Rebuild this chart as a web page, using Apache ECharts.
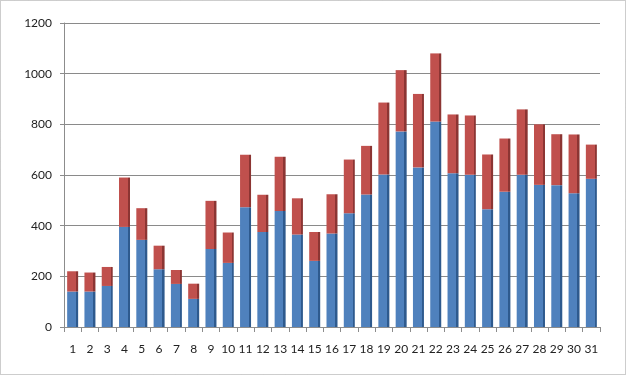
<!DOCTYPE html>
<html><head><meta charset="utf-8">
<script src="https://cdn.jsdelivr.net/npm/echarts@6/dist/echarts.min.js"></script>
<style>html,body{margin:0;padding:0;background:#fff}#c{width:626px;height:375px}</style>
</head><body><div id="c"></div>
<script>
const categories = ['1','2','3','4','5','6','7','8','9','10','11','12','13','14','15','16','17','18','19','20','21','22','23','24','25','26','27','28','29','30','31'];
const blueValues = [140,140,162,395,344,228,170,111,308,253,473,375,458,365,261,369,449,523,602,772,630,811,607,601,465,534,601,561,560,528,585];
const totalValues = [220,215,237,590,469,321,225,171,498,373,680,522,672,508,375,524,661,715,886,1014,920,1080,839,835,681,744,859,800,761,760,720];
const redValues = totalValues.map((t, i) => t - blueValues[i]);
const yTicks = [0,200,400,600,800,1000,1200];

function faceGrad(front, side) {
  return {type:'linear', x:0, y:0, x2:1, y2:0, colorStops:[
    {offset:0, color:front},{offset:0.8, color:front},
    {offset:0.8, color:side},{offset:1, color:side}]};
}
const chart = echarts.init(document.getElementById('c'), null, {renderer:'canvas'});
chart.setOption({
  animation:false,
  backgroundColor:'#fff',
  grid:{left:64, right:26, top:23, bottom:48},
  xAxis:{type:'category', data:categories,
    axisLine:{lineStyle:{color:'#8c8c8c'}},
    axisTick:{show:true, length:5, lineStyle:{color:'#8c8c8c'}},
    axisLabel:{color:'#222', fontFamily:'Lato', fontSize:12, margin:16, interval:0, hideOverlap:false}},
  yAxis:{type:'value', min:yTicks[0], max:yTicks[yTicks.length-1], interval:200,
    axisLine:{show:true, lineStyle:{color:'#8c8c8c'}},
    axisTick:{show:true, length:4, lineStyle:{color:'#8c8c8c'}},
    splitLine:{lineStyle:{color:'#8a8a8a', width:1}},
    axisLabel:{color:'#222', fontFamily:'Lato', fontSize:12, margin:12, formatter:v => String(v)}},
  series:[
    {type:'bar', stack:'s', data:blueValues, barWidth:11,
      itemStyle:{color:faceGrad('#4F81BD','#2E5A8E')}},
    {type:'bar', stack:'s', data:redValues, barWidth:11,
      itemStyle:{color:faceGrad('#C0504D','#8C3533')}}
  ],
  graphic:[{type:'rect', shape:{x:0.5,y:0.5,width:625,height:374},
    style:{fill:'none', stroke:'#9a9a9a', lineWidth:1, lineDash:[1,1]}}]
});
</script></body></html>
